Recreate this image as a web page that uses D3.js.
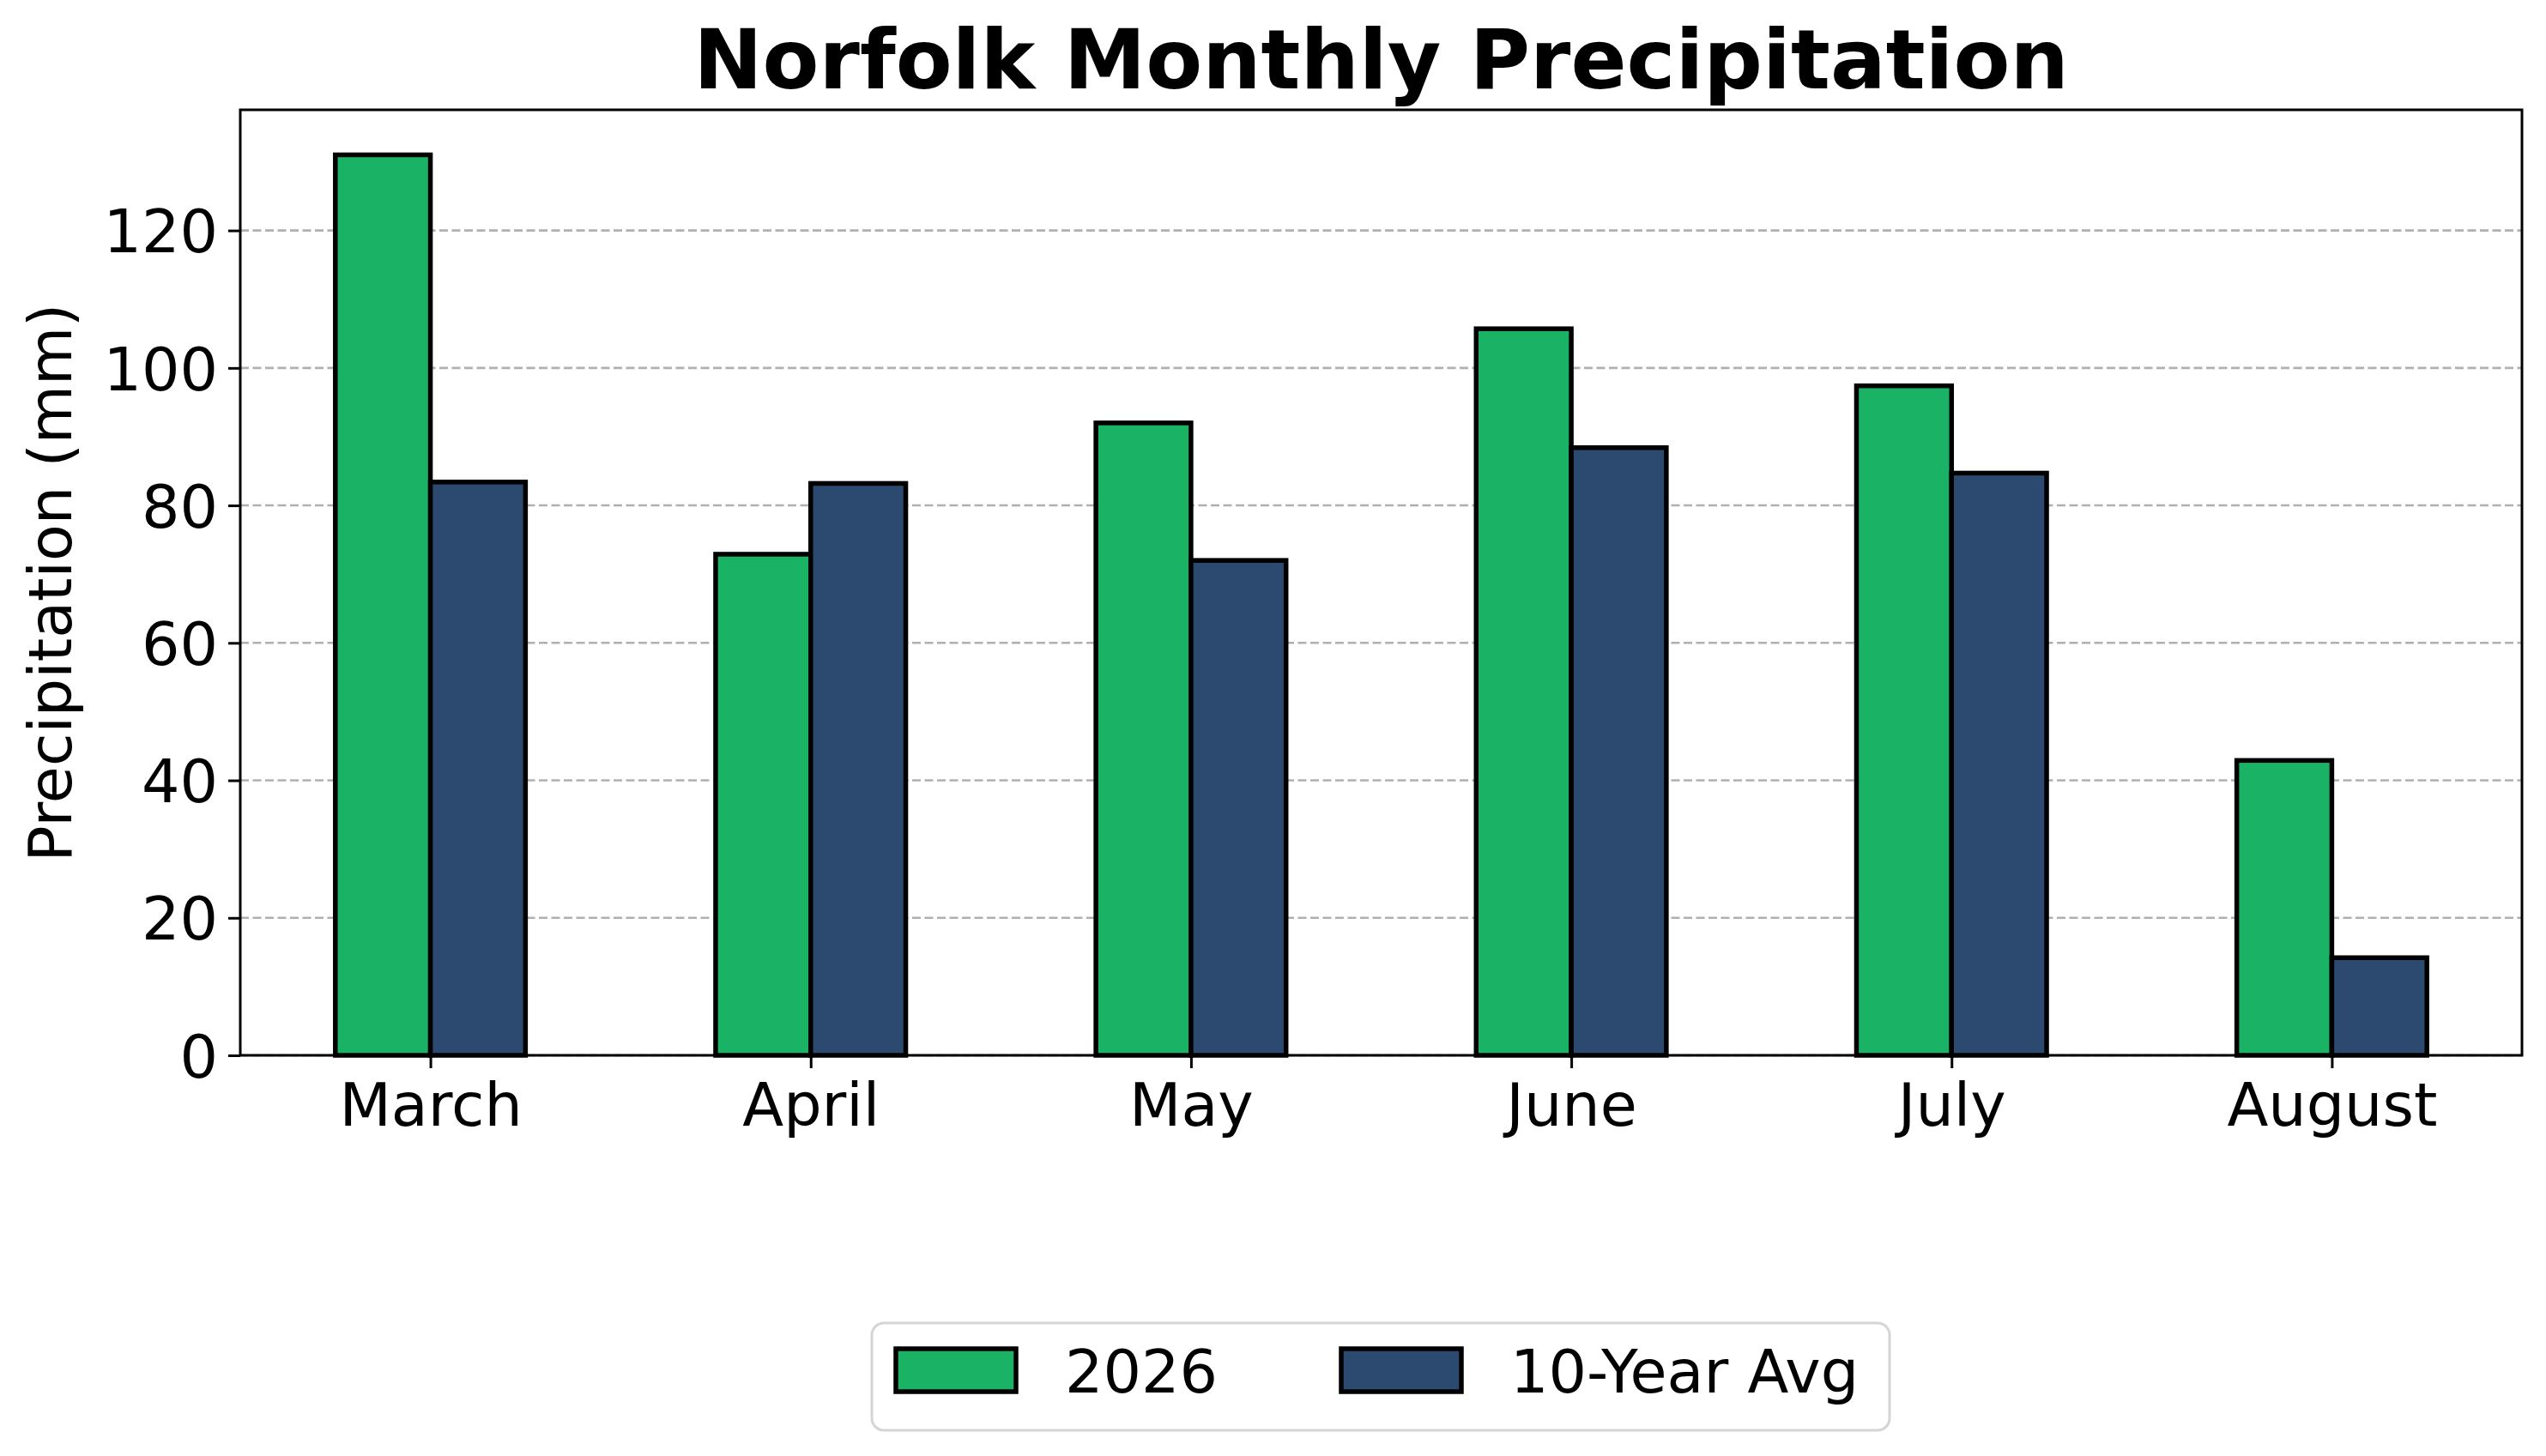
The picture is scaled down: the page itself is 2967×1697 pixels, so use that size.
<!DOCTYPE html>
<html lang="en">
  <head>
    <meta charset="UTF-8" />
    <title>Norfolk Monthly Precipitation</title>
    <script src="https://d3js.org/d3.v7.min.js"></script>
    <style>
      body {
        margin: 0;
        background: #fff;
        font-family: 'DejaVu Sans', sans-serif;
      }
      .grid line {
        stroke: #b0b0b0;
        stroke-width: 2.6px;
        stroke-dasharray: 10, 4.5;
      }
      .bar {
        stroke: #000;
        stroke-width: 5.5px;
      }
    </style>
  </head>
  <body>
    <svg width="2967" height="1697"></svg>
    <script>
      const months = ['March', 'April', 'May', 'June', 'July', 'August'];
      const current = [131, 72.9, 92.0, 105.7, 97.4, 42.9];
      const tenYearAvg = [83.4, 83.2, 72.0, 88.4, 84.7, 14.2];
      const seriesNames = ['2026', '10-Year Avg'];
      const seriesColors = ['#1ab366', '#2c4a6f'];
      const yTicks = [0, 20, 40, 60, 80, 100, 120];

      const svg = d3.select('svg');
      const plotLeft = 280, plotRight = 2939, plotTop = 128, plotBottom = 1230;
      const fontSize = 70;

      svg.append('rect').attr('width', 2967).attr('height', 1697).attr('fill', '#fff');

      const x = d3.scaleLinear().domain([-0.5, months.length - 0.5]).range([plotLeft, plotRight]);
      const y = d3.scaleLinear().domain([0, d3.max(current) * 1.05]).range([plotBottom, plotTop]);
      const barW = x(0.25) - x(0);

      // grid
      svg.append('g')
        .attr('class', 'grid')
        .selectAll('line')
        .data(yTicks)
        .join('line')
        .attr('x1', plotLeft)
        .attr('x2', plotRight)
        .attr('y1', (d) => y(d))
        .attr('y2', (d) => y(d));

      // bars
      const series = [current, tenYearAvg];
      series.forEach((vals, s) => {
        svg.append('g')
          .selectAll('rect')
          .data(vals)
          .join('rect')
          .attr('class', 'bar')
          .attr('x', (d, i) => x(i) + (s === 0 ? -barW : 0))
          .attr('y', (d) => y(d))
          .attr('width', barW)
          .attr('height', (d) => y(0) - y(d))
          .attr('fill', seriesColors[s]);
      });

      // frame
      svg.append('rect')
        .attr('x', plotLeft)
        .attr('y', plotTop)
        .attr('width', plotRight - plotLeft)
        .attr('height', plotBottom - plotTop)
        .attr('fill', 'none')
        .attr('stroke', '#000')
        .attr('stroke-width', 3);

      // y axis
      const yAxis = svg.append('g')
        .attr('transform', `translate(${plotLeft},0)`)
        .call(d3.axisLeft(y).tickValues(yTicks).tickSize(14).tickPadding(12));
      yAxis.select('.domain').remove();
      yAxis.selectAll('line').attr('stroke-width', 3);
      yAxis.selectAll('text')
        .attr('font-size', fontSize)
        .attr('font-family', 'DejaVu Sans')
        .attr('dy', '0.36em');

      // x axis
      const xAxis = svg.append('g')
        .attr('transform', `translate(0,${plotBottom})`)
        .call(
          d3.axisBottom(x)
            .tickValues(d3.range(months.length))
            .tickFormat((i) => months[i])
            .tickSize(15)
            .tickPadding(14)
        );
      xAxis.select('.domain').remove();
      xAxis.selectAll('line').attr('stroke-width', 3);
      xAxis.selectAll('text')
        .attr('font-size', fontSize)
        .attr('font-family', 'DejaVu Sans')
        .attr('dy', '0.76em');

      // title
      svg.append('text')
        .attr('x', (plotLeft + plotRight) / 2)
        .attr('y', 103)
        .attr('text-anchor', 'middle')
        .attr('font-size', 96)
        .attr('font-weight', 'bold')
        .text('Norfolk Monthly Precipitation');

      // y label
      svg.append('text')
        .attr('transform', `translate(83,${(plotTop + plotBottom) / 2}) rotate(-90)`)
        .attr('text-anchor', 'middle')
        .attr('font-size', fontSize)
        .text('Precipitation (mm)');

      // legend
      const legend = svg.append('g');
      legend.append('rect')
        .attr('x', 1016)
        .attr('y', 1542)
        .attr('width', 1186)
        .attr('height', 125)
        .attr('rx', 14)
        .attr('fill', '#fff')
        .attr('stroke', '#d5d5d5')
        .attr('stroke-width', 3);
      const legendX = [1044, 1563];
      seriesNames.forEach((name, s) => {
        legend.append('rect')
          .attr('x', legendX[s])
          .attr('y', 1572)
          .attr('width', 140)
          .attr('height', 50)
          .attr('fill', seriesColors[s])
          .attr('stroke', '#000')
          .attr('stroke-width', 5.5);
        legend.append('text')
          .attr('x', legendX[s] + 140 + 57)
          .attr('y', 1623)
          .attr('font-size', fontSize)
          .text(name);
      });
    </script>
  </body>
</html>
